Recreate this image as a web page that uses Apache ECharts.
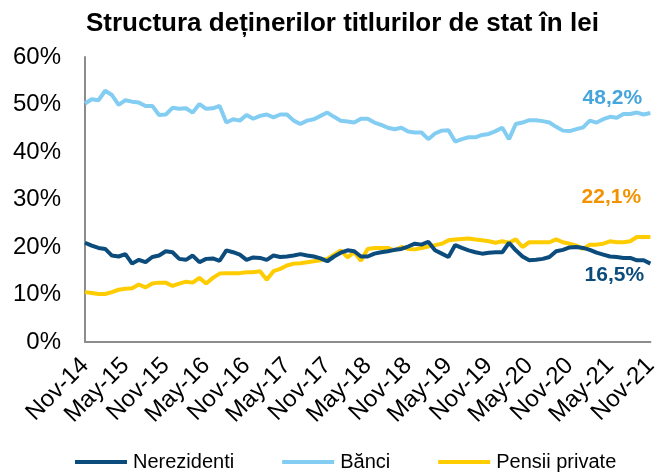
<!DOCTYPE html>
<html>
<head>
<meta charset="utf-8">
<script src="https://cdn.jsdelivr.net/npm/echarts@6/dist/echarts.min.js"></script>
<style>
  html, body { margin: 0; padding: 0; background: #ffffff; }
  #chart { width: 661px; height: 472px; }
</style>
</head>
<body>
<div id="chart"></div>
<script>
// ---- data (monthly, Nov-14 .. Nov-21) ----
var monthNames = ['Jan','Feb','Mar','Apr','May','Jun','Jul','Aug','Sep','Oct','Nov','Dec'];
var categories = [];
for (var y = 2014, m = 10; y < 2021 || (y === 2021 && m <= 10); ) {
  categories.push(monthNames[m] + '-' + String(y).slice(2));
  m++; if (m > 11) { m = 0; y++; }
}
var seriesNames = ['Nerezidenti', 'Bănci', 'Pensii private'];

var nerezidenti = [
  20.9, 20.3, 19.8, 19.6, 18.2, 18.0, 18.5, 16.5, 17.3, 16.8,
  17.9, 18.2, 19.1, 18.9, 17.5, 17.3, 18.2, 16.8, 17.5, 17.6,
  17.1, 19.3, 18.9, 18.4, 17.3, 17.8, 17.7, 17.3, 18.2, 17.9,
  18.0, 18.2, 18.5, 18.2, 18.0, 17.6, 17.0, 18.0, 18.8, 19.3,
  19.1, 18.0, 18.0, 18.6, 18.9, 19.1, 19.4, 19.6, 20.1, 20.7,
  20.5, 21.1, 19.3, 18.6, 17.9, 20.4, 19.8, 19.3, 18.9, 18.6,
  18.8, 18.9, 18.9, 20.9, 19.3, 18.0, 17.2, 17.3, 17.5, 17.9,
  19.1, 19.4, 19.9, 20.0, 19.8, 19.4, 18.8, 18.4, 18.0, 17.9,
  17.7, 17.7, 17.2, 17.2, 16.5
];
var banci = [
  50.2, 51.1, 50.9, 52.9, 52.0, 49.9, 50.9, 50.6, 50.4, 49.7,
  49.7, 47.8, 47.9, 49.3, 49.1, 49.2, 48.3, 50.1, 49.1, 49.2,
  49.7, 46.2, 46.9, 46.6, 47.8, 47.0, 47.6, 47.9, 47.3, 47.9,
  47.9, 46.6, 45.9, 46.6, 46.9, 47.6, 48.3, 47.4, 46.6, 46.4,
  46.2, 47.0, 47.0, 46.2, 45.7, 45.1, 44.8, 45.1, 44.3, 44.1,
  44.1, 42.7, 43.9, 44.5, 44.6, 42.2, 42.7, 43.1, 43.1, 43.6,
  43.8, 44.4, 45.1, 42.7, 45.9, 46.2, 46.7, 46.7, 46.5, 46.2,
  45.3, 44.5, 44.4, 44.8, 45.2, 46.6, 46.2, 46.9, 47.4, 47.2,
  48.0, 48.0, 48.3, 47.9, 48.2
];
var pensii = [
  10.5, 10.3, 10.1, 10.1, 10.5, 11.0, 11.2, 11.3, 12.1, 11.5,
  12.3, 12.5, 12.5, 11.8, 12.3, 12.7, 12.5, 13.5, 12.3, 13.5,
  14.4, 14.5, 14.5, 14.5, 14.7, 14.7, 14.9, 13.1, 14.9, 15.4,
  16.1, 16.5, 16.6, 16.8, 17.0, 17.2, 17.5, 18.4, 19.3, 17.8,
  18.9, 17.1, 19.6, 19.8, 19.8, 19.8, 19.3, 20.0, 19.6, 19.5,
  19.8, 20.1, 20.4, 20.7, 21.4, 21.6, 21.7, 21.8, 21.6, 21.4,
  21.2, 20.9, 21.2, 20.9, 21.6, 20.0, 21.0, 21.0, 21.0, 21.0,
  21.6, 21.0, 20.7, 20.3, 19.6, 20.5, 20.5, 20.7, 21.2, 21.0,
  21.0, 21.2, 22.1, 22.1, 22.1
];

// ---- styling ----
var FONT = '"Liberation Sans", Arial, sans-serif';
var colors = ['#0B4C7D', '#83CDF3', '#FFCC00'];
var labelColors = ['#0B4C7D', '#45A5DC', '#F39200'];
var labelOffsets = [[-36, 12], [-38, -15], [-39, -40]];

function buildData(values, idx) {
  return values.map(function (v, i) {
    if (i !== values.length - 1) return v;
    return {
      value: v,
      label: {
        show: true,
        position: 'inside',
        offset: labelOffsets[idx],
        formatter: function (p) { return String(p.value.toFixed(1)).replace('.', ',') + '%'; },
        color: labelColors[idx],
        fontFamily: FONT,
        fontWeight: 'bold',
        fontSize: 21
      }
    };
  });
}

var allValues = [nerezidenti, banci, pensii];

var chart = echarts.init(document.getElementById('chart'), null, { renderer: 'canvas' });
chart.setOption({
  animation: false,
  backgroundColor: '#ffffff',
  title: {
    text: 'Structura deținerilor titlurilor de stat în lei',
    left: 81,
    top: 6,
    textStyle: { fontFamily: FONT, fontWeight: 'bold', fontSize: 26, color: '#000000' }
  },
  legend: {
    left: 70,
    top: 447,
    itemWidth: 52,
    itemHeight: 4,
    itemGap: 48,
    icon: 'rect',
    data: seriesNames,
    textStyle: { fontFamily: FONT, fontSize: 20, color: '#000000', padding: [0, 0, 0, 1] }
  },
  grid: { left: 85, right: 2, top: 57, bottom: 130 },
  xAxis: {
    type: 'category',
    data: categories,
    boundaryGap: false,
    axisLine: { lineStyle: { color: '#8C8C8C', width: 2 } },
    axisTick: { show: false },
    axisLabel: {
      interval: 5,
      rotate: 45,
      margin: 20,
      fontFamily: FONT,
      fontSize: 24,
      color: '#000000'
    },
    splitLine: { show: false }
  },
  yAxis: {
    type: 'value',
    min: 0,
    max: 60,
    interval: 10,
    axisLine: { show: true, lineStyle: { color: '#8C8C8C', width: 2 } },
    axisTick: { show: false },
    axisLabel: {
      formatter: '{value}%',
      margin: 24,
      fontFamily: FONT,
      fontSize: 24,
      color: '#000000'
    },
    splitLine: { show: false }
  },
  series: seriesNames.map(function (name, idx) {
    return {
      name: name,
      type: 'line',
      data: buildData(allValues[idx], idx),
      symbol: 'circle',
      symbolSize: 0,
      showSymbol: true,
      showAllSymbol: true,
      lineStyle: { color: colors[idx], width: 4 },
      itemStyle: { color: colors[idx] },
      z: idx === 0 ? 3 : (idx === 2 ? 2 : 1)
    };
  })
});
</script>
</body>
</html>
